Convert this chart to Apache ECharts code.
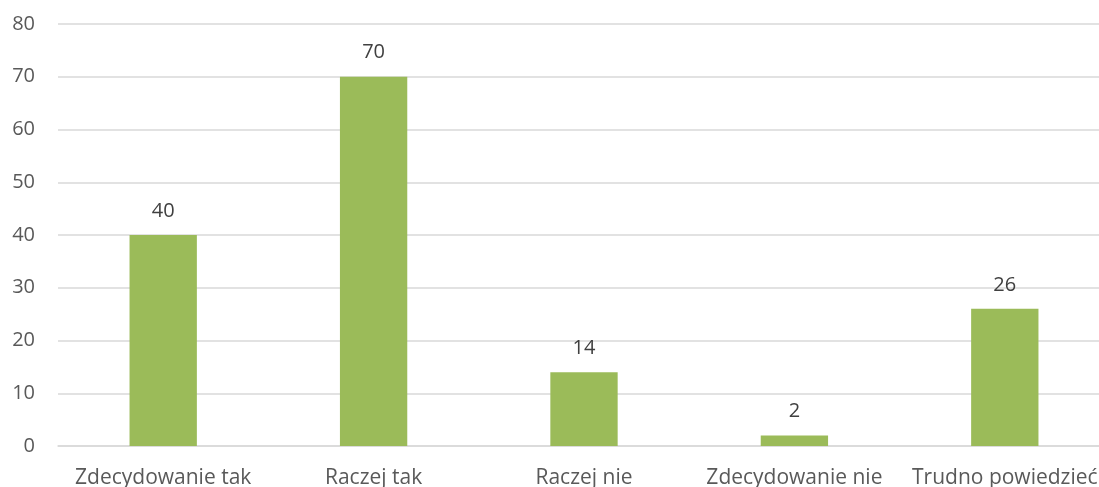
<!DOCTYPE html>
<html><head><meta charset="utf-8">
<script src="https://cdn.jsdelivr.net/npm/echarts@6/dist/echarts.min.js"></script>
<style>html,body{margin:0;padding:0;background:#fff}#c{width:1099px;height:487px}</style>
</head><body><div id="c"></div>
<script>
const categories = ["Zdecydowanie tak", "Raczej tak", "Raczej nie", "Zdecydowanie nie", "Trudno powiedzieć"];
const values = [40, 70, 14, 2, 26];
const yTicks = [0, 10, 20, 30, 40, 50, 60, 70, 80];

const chart = echarts.init(document.getElementById('c'));
chart.setOption({
  animation: false,
  grid: { left: 58, width: 1052, top: 24, bottom: 41, containLabel: false, outerBoundsMode: 'none' },
  xAxis: {
    type: 'category', data: categories,
    axisLine: { show: true, lineStyle: { color: '#d9d9d9', width: 1.5 } },
    axisTick: { show: false },
    axisLabel: { interval: 0, hideOverlap: false, color: '#595959', fontSize: 21, fontFamily: 'Open Sans', margin: 22 }
  },
  yAxis: {
    type: 'value', min: yTicks[0], max: yTicks[yTicks.length - 1], interval: 10,
    axisLine: { show: false }, axisTick: { show: false },
    axisLabel: { color: '#595959', fontSize: 20, fontFamily: 'Open Sans', margin: 23 },
    splitLine: { lineStyle: { color: '#d9d9d9', width: 1.5 } }
  },
  series: [{
    type: 'bar', data: values, barWidth: '32%',
    itemStyle: { color: '#9bbb59' },
    label: { show: true, position: 'top', distance: 14, color: '#404040', fontSize: 20, fontFamily: 'Open Sans' }
  }]
});
</script></body></html>
